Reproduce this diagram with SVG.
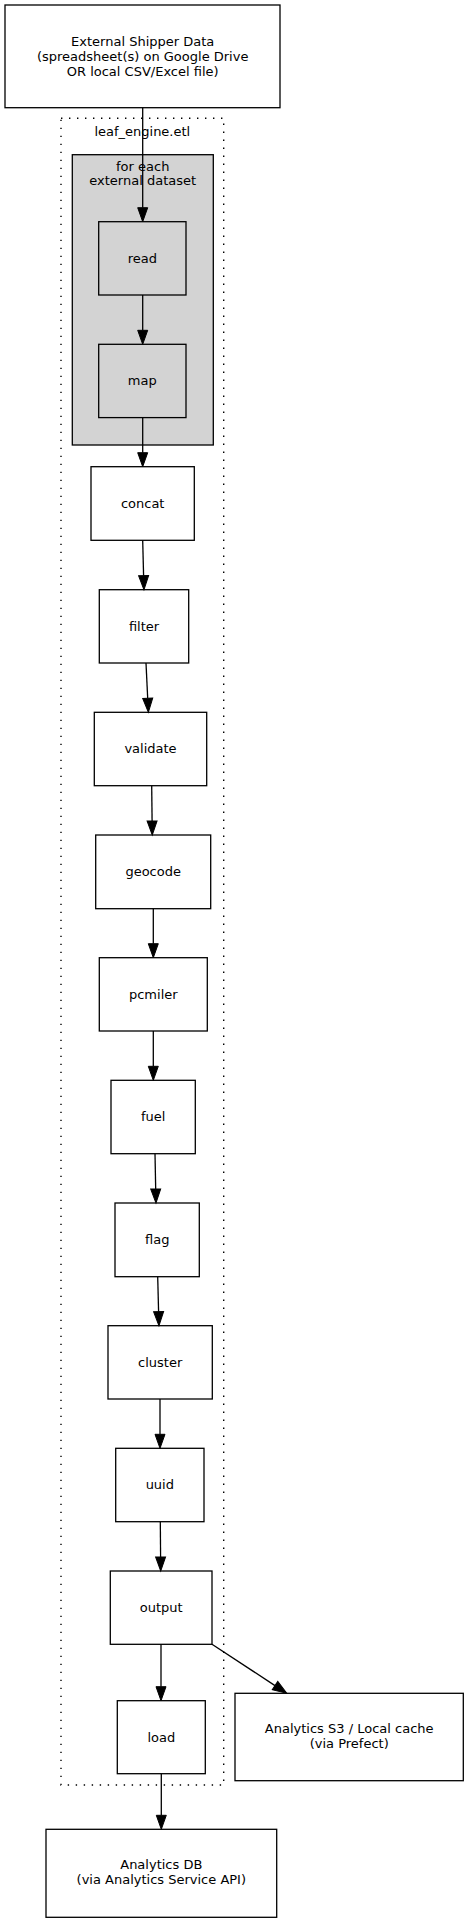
<svg xmlns="http://www.w3.org/2000/svg" width="469" height="1923" viewBox="0 0 469 1923">
<style>
  .node rect { fill: #ffffff; stroke: #000000; stroke-width: 1.3; }
  .inner rect { fill: #d3d3d3; stroke: #000000; stroke-width: 1.3; }
  text { font-family: "DejaVu Sans", "Liberation Sans", sans-serif; font-size: 13px; fill: #000000; text-anchor: middle; }
  .edges line { stroke: #000000; stroke-width: 1.3; marker-end: url(#arrow); }
  .outer { fill: none; stroke: #000000; stroke-width: 1.4; stroke-dasharray: 1.4 6.6; }
  .gray { fill: #d3d3d3; stroke: #000000; stroke-width: 1.3; }
</style>
<defs>
  <marker id="arrow" markerUnits="userSpaceOnUse" markerWidth="14" markerHeight="10" refX="0" refY="5" orient="auto" overflow="visible">
    <path d="M0,0 L14,5 L0,10 Z" fill="#000000" stroke="#000000" stroke-width="1"/>
  </marker>
</defs>
<rect width="469" height="1923" fill="#ffffff"/>

<g id="cluster_leaf_engine_etl">
  <rect class="outer" x="61" y="118.3" width="162.7" height="1666.7"/>
  <text x="142.3" y="135.5">leaf_engine.etl</text>
</g>
<g id="cluster_for_each">
  <rect class="gray" x="72.3" y="154.7" width="141" height="290.3"/>
  <text x="142.7" y="170.5">for each</text>
  <text x="142.7" y="185">external dataset</text>
</g>

<g id="external_shipper_data" class="node">
  <rect x="5" y="5" width="275" height="102.7"/>
  <text x="142.7" y="45.5">External Shipper Data</text>
  <text x="142.7" y="60.5">(spreadsheet(s) on Google Drive</text>
  <text x="142.7" y="75.5">OR local CSV/Excel file)</text>
</g>
<g id="read" class="inner">
  <rect x="98.7" y="221.7" width="87.3" height="73.3"/>
  <text x="142.3" y="262.5">read</text>
</g>
<g id="map" class="inner">
  <rect x="98.7" y="344.3" width="87.3" height="73.3"/>
  <text x="142.3" y="385">map</text>
</g>
<g id="concat" class="node">
  <rect x="91" y="466.7" width="103.3" height="73.6"/>
  <text x="142.7" y="507.5">concat</text>
</g>
<g id="filter" class="node">
  <rect x="99.3" y="589.7" width="89.4" height="73.3"/>
  <text x="144" y="630.5">filter</text>
</g>
<g id="validate" class="node">
  <rect x="94.3" y="712.3" width="112.4" height="73.4"/>
  <text x="150.5" y="753">validate</text>
</g>
<g id="geocode" class="node">
  <rect x="95.7" y="835" width="115" height="73.7"/>
  <text x="153.2" y="876">geocode</text>
</g>
<g id="pcmiler" class="node">
  <rect x="99.3" y="957.7" width="108" height="73.3"/>
  <text x="153.3" y="998.5">pcmiler</text>
</g>
<g id="fuel" class="node">
  <rect x="111" y="1080.3" width="84.3" height="73.4"/>
  <text x="153.2" y="1121">fuel</text>
</g>
<g id="flag" class="node">
  <rect x="115" y="1203" width="84.3" height="73.7"/>
  <text x="157.2" y="1244">flag</text>
</g>
<g id="cluster" class="node">
  <rect x="108" y="1325.7" width="104.3" height="73.3"/>
  <text x="160.2" y="1366.5">cluster</text>
</g>
<g id="uuid" class="node">
  <rect x="115.7" y="1448.3" width="88.3" height="73.4"/>
  <text x="159.8" y="1489">uuid</text>
</g>
<g id="output" class="node">
  <rect x="110.3" y="1571" width="101.7" height="73.3"/>
  <text x="161.2" y="1611.8">output</text>
</g>
<g id="load" class="node">
  <rect x="117.3" y="1700.7" width="88" height="73"/>
  <text x="161.3" y="1741.5">load</text>
</g>
<g id="analytics_s3" class="node">
  <rect x="235" y="1693.3" width="228.3" height="87.4"/>
  <text x="349.2" y="1733">Analytics S3 / Local cache</text>
  <text x="349.2" y="1748">(via Prefect)</text>
</g>
<g id="analytics_db" class="node">
  <rect x="46" y="1829.3" width="230.7" height="88"/>
  <text x="161.3" y="1869">Analytics DB</text>
  <text x="161.3" y="1884">(via Analytics Service API)</text>
</g>

<g id="connectors" class="edges">
  <line x1="142.7" y1="107.7" x2="142.7" y2="207.7"/>
  <line x1="142.7" y1="295" x2="142.7" y2="330.3"/>
  <line x1="142.7" y1="417.7" x2="142.7" y2="452.7"/>
  <line x1="142.7" y1="540.3" x2="143.6" y2="575.7"/>
  <line x1="146" y1="663" x2="147.7" y2="698.3"/>
  <line x1="151.7" y1="785.7" x2="152.1" y2="821"/>
  <line x1="153.3" y1="908.7" x2="153.3" y2="943.7"/>
  <line x1="153.3" y1="1031" x2="153.3" y2="1066.3"/>
  <line x1="155" y1="1153.7" x2="155.7" y2="1189"/>
  <line x1="157.7" y1="1276.7" x2="158.6" y2="1311.7"/>
  <line x1="160" y1="1399" x2="160" y2="1434.3"/>
  <line x1="160.3" y1="1521.7" x2="160.6" y2="1557"/>
  <line x1="161" y1="1644.3" x2="161" y2="1686.7"/>
  <line x1="212" y1="1644.3" x2="275" y2="1685.6"/>
  <line x1="161.3" y1="1773.7" x2="161.3" y2="1815.3"/>
</g>
</svg>
